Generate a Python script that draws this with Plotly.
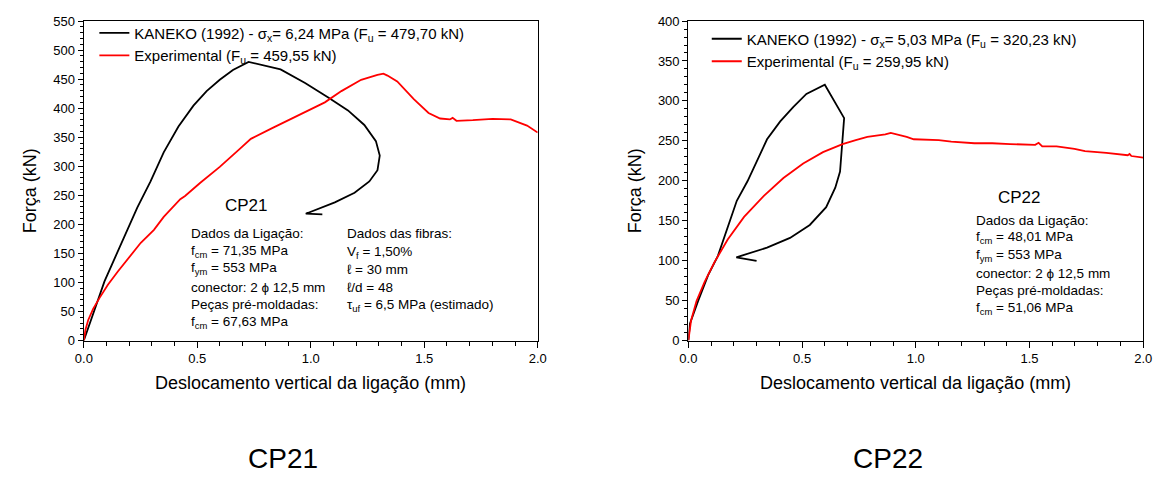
import plotly.graph_objects as go

# ---------------- data ----------------
# CP21
kaneko21_x = [0.0, 0.026, 0.055, 0.091, 0.135, 0.186, 0.236, 0.294, 0.352, 0.417, 0.483, 0.541,
              0.599, 0.657, 0.726, 0.867, 0.975, 1.077, 1.164, 1.236, 1.287, 1.304, 1.294, 1.258,
              1.193, 1.106, 1.033, 0.978, 1.051]
kaneko21_y = [0.0, 29.4, 62.8, 101.7, 140.6, 185.0, 229.4, 273.9, 323.9, 368.3, 404.4, 429.4,
              448.9, 465.6, 479.7, 466.7, 443.3, 418.3, 396.1, 371.1, 343.3, 318.3, 293.3, 273.9,
              254.4, 237.8, 226.7, 218.3, 217.2]
exp21_x = [0.0, 0.007, 0.019, 0.041, 0.070, 0.106, 0.149, 0.200, 0.251, 0.309, 0.352, 0.425,
           0.446, 0.512, 0.599, 0.686, 0.736, 0.830, 0.946, 1.062, 1.135, 1.222, 1.294, 1.320,
           1.338, 1.381, 1.454, 1.519, 1.570, 1.613, 1.625, 1.642, 1.714, 1.801, 1.881, 1.953, 2.0]
exp21_y = [0.0, 18.3, 35.0, 54.4, 73.9, 96.1, 118.3, 143.3, 168.3, 190.6, 212.8, 243.3,
           248.9, 271.1, 298.9, 329.4, 347.2, 365.6, 387.8, 410.0, 429.4, 448.9, 457.2, 459.55,
           456.1, 446.1, 415.6, 391.7, 382.2, 380.6, 383.3, 378.3, 379.4, 381.7, 380.6, 370.0, 358.0]

# CP22
kaneko22_x = [0.0, 0.007, 0.043, 0.087, 0.130, 0.173, 0.213, 0.260, 0.303, 0.346, 0.404, 0.462,
              0.519, 0.600, 0.685, 0.667, 0.646, 0.606, 0.534, 0.447, 0.346, 0.211, 0.300]
kaneko22_y = [0.0, 21.0, 49.5, 81.8, 106.0, 142.6, 175.0, 199.4, 225.8, 252.0, 274.4, 292.6,
              308.8, 320.23, 278.4, 211.5, 191.3, 167.0, 144.7, 128.5, 116.3, 104.2, 99.7]
exp22_x = [0.0, 0.012, 0.036, 0.072, 0.115, 0.173, 0.245, 0.332, 0.418, 0.505, 0.592, 0.678,
           0.736, 0.787, 0.866, 0.890, 0.960, 0.991, 1.101, 1.156, 1.258, 1.336, 1.415, 1.525,
           1.540, 1.556, 1.619, 1.698, 1.744, 1.838, 1.932, 1.940, 1.948, 2.0]
exp22_y = [0.0, 25.1, 49.5, 73.8, 98.1, 126.4, 154.8, 181.2, 203.4, 221.6, 235.9, 246.0,
           250.9, 255.0, 258.0, 259.95, 255.0, 252.0, 251.0, 249.0, 247.0, 247.0, 246.0, 245.0,
           247.5, 243.0, 243.0, 240.0, 237.0, 235.0, 232.0, 233.5, 231.0, 229.0]

names21 = ["KANEKO (1992) - σ<sub>x</sub>= 6,24 MPa (F<sub>u</sub> = 479,70 kN)",
           "Experimental (F<sub>u</sub> = 459,55 kN)"]
names22 = ["KANEKO (1992) - σ<sub>x</sub>= 5,03 MPa (F<sub>u</sub> = 320,23 kN)",
           "Experimental (F<sub>u</sub> = 259,95 kN)"]

info21_col1 = ["Dados da Ligação:", "f<sub>cm</sub> = 71,35 MPa", "f<sub>ym</sub> = 553 MPa",
               "conector: 2 ϕ 12,5 mm", "Peças pré-moldadas:", "f<sub>cm</sub> = 67,63 MPa"]
info21_col2 = ["Dados das fibras:", "V<sub>f</sub> = 1,50%", "ℓ = 30 mm", "ℓ/d = 48",
               "τ<sub>uf</sub> = 6,5 MPa (estimado)"]
info22_col1 = ["Dados da Ligação:", "f<sub>cm</sub> = 48,01 MPa", "f<sub>ym</sub> = 553 MPa",
               "conector: 2 ϕ 12,5 mm", "Peças pré-moldadas:", "f<sub>cm</sub> = 51,06 MPa"]

x_title = "Deslocamento vertical da ligação (mm)"
y_title = "Força (kN)"

# ---------------- figure ----------------
W, H = 1166, 479
FONT = "Liberation Sans, Arial, sans-serif"

def px(x):
    return x / W

def py(y):
    return 1 - y / H

fig = go.Figure()
fig.add_trace(go.Scatter(x=kaneko21_x, y=kaneko21_y, mode="lines", name=names21[0],
                         line=dict(color="black", width=1.8), xaxis="x", yaxis="y", legend="legend"))
fig.add_trace(go.Scatter(x=exp21_x, y=exp21_y, mode="lines", name=names21[1],
                         line=dict(color="#ff0000", width=1.8), xaxis="x", yaxis="y", legend="legend"))
fig.add_trace(go.Scatter(x=kaneko22_x, y=kaneko22_y, mode="lines", name=names22[0],
                         line=dict(color="black", width=1.8), xaxis="x2", yaxis="y2", legend="legend2"))
fig.add_trace(go.Scatter(x=exp22_x, y=exp22_y, mode="lines", name=names22[1],
                         line=dict(color="#ff0000", width=1.8), xaxis="x2", yaxis="y2", legend="legend2"))

ydom = [py(344.3), py(14.5)]

def xax(domain, anchor):
    return dict(domain=domain, anchor=anchor, range=[0, 2], dtick=0.5, tickformat=".1f",
                ticks="outside", ticklen=6, tickwidth=1.2, tickcolor="black",
                showline=True, linecolor="black", linewidth=1.3, mirror=True,
                showgrid=False, zeroline=False,
                tickfont=dict(family=FONT, size=13, color="black"),
                minor=dict(dtick=0.1, ticks="outside", ticklen=4, tickwidth=1.1,
                           tickcolor="black", showgrid=False))

def yax(ymax, anchor):
    return dict(domain=ydom, anchor=anchor, range=[0, ymax], dtick=50,
                ticks="outside", ticklen=5, tickwidth=1.2, tickcolor="black",
                showline=True, linecolor="black", linewidth=1.3, mirror=True,
                showgrid=False, zeroline=False,
                tickfont=dict(family=FONT, size=13, color="black"),
                minor=dict(dtick=10, ticks="outside", ticklen=3, tickwidth=1.1,
                           tickcolor="black", showgrid=False))

annotations = []

def ann(text, x, y, size, xanchor="left", yanchor="middle", angle=0):
    annotations.append(dict(text=text, x=px(x), y=py(y), xref="paper", yref="paper",
                            xanchor=xanchor, yanchor=yanchor, showarrow=False,
                            textangle=angle,
                            font=dict(family=FONT, size=size, color="black")))

# CP21 panel texts
ann("CP21", 241, 205, 17, xanchor="center")
for t, yy in zip(info21_col1, [234.3, 252.3, 270.3, 289.3, 307.3, 326.0]):
    ann(t, 183, yy, 13.5)
for t, yy in zip(info21_col2, [234.3, 253.7, 271.3, 289.3, 308.3]):
    ann(t, 341, yy, 13.5)
# CP22 panel texts
ann("CP22", 1026, 197, 17, xanchor="center")
for t, yy in zip(info22_col1, [220.0, 237.7, 256.7, 275.0, 292.7, 311.7]):
    ann(t, 980, yy, 13.5)

# axis titles
ann(x_title, 306.5, 388, 18, xanchor="center")
ann(x_title, 921, 388, 18, xanchor="center")
ann(y_title, 21.5, 190, 18, xanchor="center", angle=-90)
ann(y_title, 636, 190, 18, xanchor="center", angle=-90)

# captions
ann("CP21", 278, 466, 28, xanchor="center")
ann("CP22", 893, 466, 28, xanchor="center")

legend_common = dict(xanchor="left", yanchor="top", bgcolor="rgba(0,0,0,0)", borderwidth=0,
                     font=dict(family=FONT, size=15, color="black"), tracegroupgap=0)

fig.update_layout(
    width=W, height=H, autosize=False,
    margin=dict(l=0, r=0, t=0, b=0, pad=0),
    paper_bgcolor="white", plot_bgcolor="white",
    xaxis=xax([px(76), px(537)], "y"),
    yaxis=yax(550, "x"),
    xaxis2=xax([px(690), px(1152)], "y2"),
    yaxis2=yax(400, "x2"),
    legend=dict(x=px(86.7), y=py(10), **legend_common),
    legend2=dict(x=px(708.7), y=py(16), **legend_common),
    annotations=annotations,
    showlegend=True,
)

fig.write_html("out.html", include_plotlyjs=True, config={"displayModeBar": False},
               post_script="document.body.style.margin='0';document.body.style.overflow='hidden';")
